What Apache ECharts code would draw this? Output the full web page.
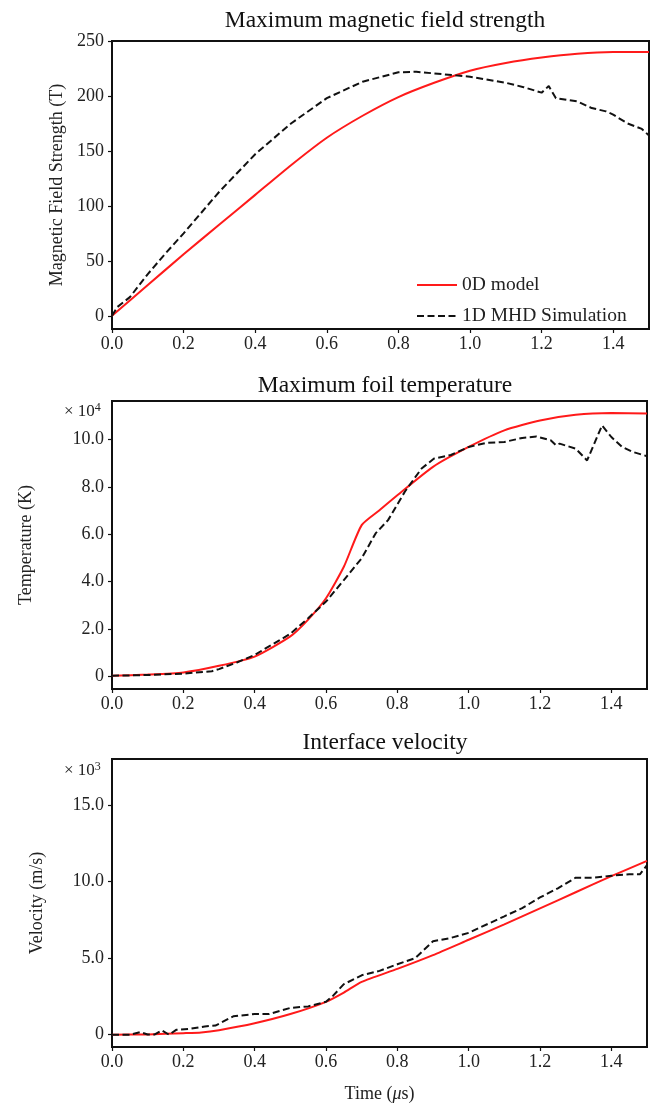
<!DOCTYPE html>
<html>
<head>
<meta charset="utf-8">
<script src="https://cdn.jsdelivr.net/npm/echarts@6/dist/echarts.min.js"></script>
<style>
  html, body { margin: 0; padding: 0; background: #fff; }
  #chart { width: 654px; height: 1109px; }
</style>
</head>
<body>
<div id="chart"></div>
<script>
// time axis (microseconds)
var xTicks = [0, 0.2, 0.4, 0.6, 0.8, 1.0, 1.2, 1.4]

// panel 1: magnetic field (T)
var fieldModelT = [0, 0.1, 0.2, 0.3, 0.4, 0.5, 0.6, 0.7, 0.8, 0.9, 1.0, 1.1, 1.2, 1.3, 1.4, 1.5]
var fieldModel  = [0, 28, 56, 83, 110, 137, 162, 182, 199, 212, 223, 230, 235, 238.5, 240, 240]
var fieldSimT = [0, 0.015, 0.05, 0.1, 0.15, 0.2, 0.3, 0.4, 0.5, 0.6, 0.7, 0.8, 0.85, 0.9, 1.0, 1.1, 1.15, 1.2, 1.22, 1.24, 1.3, 1.34, 1.38, 1.4, 1.44, 1.48, 1.5]
var fieldSim  = [0, 8, 17, 38, 57, 75, 113, 147, 175, 198, 213, 221.5, 222, 220.5, 217.5, 212, 208, 203, 209, 198, 195, 189, 186, 183, 175, 170, 164]
var fieldTicks = [0, 50, 100, 150, 200, 250]

// panel 2: foil temperature (K)
var tempModelT = [0, 0.1, 0.2, 0.3, 0.4, 0.5, 0.55, 0.6, 0.65, 0.7, 0.75, 0.8, 0.9, 1.0, 1.1, 1.2, 1.3, 1.4, 1.5]
var tempModel  = [300, 800, 1700, 4500, 8400, 16900, 24000, 33000, 46300, 63900, 70200, 76500, 88500, 96900, 103900, 108100, 110500, 111200, 111000]
var tempSimT = [0, 0.1, 0.2, 0.28, 0.3, 0.35, 0.4, 0.5, 0.55, 0.6, 0.65, 0.7, 0.739, 0.774, 0.821, 0.868, 0.903, 0.95, 1.0, 1.05, 1.1, 1.15, 1.19, 1.23, 1.245, 1.255, 1.3, 1.332, 1.374, 1.4, 1.43, 1.46, 1.5]
var tempSim  = [300, 600, 1200, 2200, 3100, 5900, 9100, 18000, 24600, 31600, 40700, 49900, 60400, 66000, 78000, 87800, 92000, 93500, 96900, 98600, 99000, 100700, 101300, 99700, 97600, 98300, 96200, 91200, 106000, 101100, 96900, 94800, 93000]
var tempTicks = [0, 20000, 40000, 60000, 80000, 100000]

// panel 3: interface velocity (m/s)
var velModelT = [0, 0.1, 0.2, 0.25, 0.3, 0.4, 0.5, 0.6, 0.65, 0.7, 0.8, 0.9, 1.0, 1.1, 1.2, 1.3, 1.4, 1.5]
var velModel  = [0, 20, 100, 150, 300, 750, 1350, 2150, 2750, 3450, 4300, 5200, 6200, 7200, 8250, 9300, 10350, 11350]
var velSimT = [0, 0.05, 0.08, 0.1, 0.12, 0.14, 0.16, 0.18, 0.22, 0.26, 0.29, 0.34, 0.4, 0.44, 0.5, 0.55, 0.6, 0.62, 0.65, 0.7, 0.75, 0.8, 0.85, 0.9, 0.95, 1.0, 1.03, 1.06, 1.1, 1.15, 1.2, 1.25, 1.3, 1.35, 1.4, 1.45, 1.48, 1.5]
var velSim  = [0, 0, 170, 20, 20, 280, 0, 320, 390, 540, 600, 1200, 1350, 1350, 1750, 1850, 2150, 2550, 3300, 3880, 4170, 4600, 5000, 6100, 6320, 6650, 6980, 7300, 7730, 8270, 8960, 9560, 10250, 10250, 10380, 10470, 10470, 11070]
var velTicks = [0, 5000, 10000, 15000]

function pairs(xs, ys) {
  return xs.map(function (x, i) { return [x, ys[i]] })
}

var serif = 'Liberation Serif'
var chart = echarts.init(document.getElementById('chart'))

function makeX(idx, withName) {
  return {
    type: 'value',
    gridIndex: idx,
    min: 0,
    max: 1.5,
    name: withName ? '{n|Time (}{i|\u03bc}{n|s)}' : '',
    nameLocation: 'middle',
    nameGap: 38,
    nameTextStyle: {
      rich: {
        n: { fontFamily: serif, fontSize: 18, color: '#222' },
        i: { fontFamily: serif, fontSize: 18, fontStyle: 'italic', color: '#222' }
      }
    },
    axisLine: { onZero: false, lineStyle: { color: '#111', width: 1.5 } },
    axisTick: { customValues: xTicks, length: 4, lineStyle: { color: '#111', width: 1.2 } },
    axisLabel: {
      customValues: xTicks,
      formatter: function (v) { return v.toFixed(1) },
      fontFamily: serif, fontSize: 18, color: '#222', margin: 6
    },
    splitLine: { show: false }
  }
}

function makeY(idx, min, max, ticks, fmt, name, gap) {
  return {
    type: 'value',
    gridIndex: idx,
    min: min,
    max: max,
    name: name,
    nameLocation: 'middle',
    nameGap: gap,
    nameTextStyle: { fontFamily: serif, fontSize: 18, color: '#222' },
    axisLine: { onZero: false, lineStyle: { color: '#111', width: 1.5 } },
    axisTick: { customValues: ticks, length: 4, lineStyle: { color: '#111', width: 1.2 } },
    axisLabel: {
      customValues: ticks,
      formatter: fmt,
      fontFamily: serif, fontSize: 18, color: '#222', margin: 8
    },
    splitLine: { show: false }
  }
}

function modelLine(idx, data) {
  return {
    name: '0D model', type: 'line', xAxisIndex: idx, yAxisIndex: idx,
    data: data, symbol: 'none', smooth: 0.2,
    lineStyle: { color: '#ff1a1a', width: 2 }, itemStyle: { color: '#ff1a1a' },
    z: 3
  }
}

function simLine(idx, data) {
  return {
    name: '1D MHD Simulation', type: 'line', xAxisIndex: idx, yAxisIndex: idx,
    data: data, symbol: 'none',
    lineStyle: { color: '#111', width: 2, type: [7, 3.5] }, itemStyle: { color: '#111' },
    z: 4
  }
}

var titleStyle = { fontFamily: serif, fontSize: 23.5, fontWeight: 'normal', color: '#111' }
var multRich = {
  a: { fontFamily: serif, fontSize: 17, fill: '#222' },
  b: { fontFamily: serif, fontSize: 12, fill: '#222', verticalAlign: 'top', padding: [0, 0, 8, 0] }
}

chart.setOption({
  animation: false,
  backgroundColor: '#fff',
  title: [
    { text: 'Maximum magnetic field strength', left: 380, top: 4, textAlign: 'center', textStyle: titleStyle },
    { text: 'Maximum foil temperature', left: 380, top: 369, textAlign: 'center', textStyle: titleStyle },
    { text: 'Interface velocity', left: 380, top: 726, textAlign: 'center', textStyle: titleStyle }
  ],
  legend: {
    orient: 'vertical',
    left: 411,
    top: 270,
    itemWidth: 40,
    itemHeight: 14,
    itemGap: 11,
    data: ['0D model', '1D MHD Simulation'],
    itemStyle: { opacity: 0 },
    textStyle: { fontFamily: serif, fontSize: 19.5, color: '#222' }
  },
  grid: [
    { left: 112, right: 5, top: 41, height: 288, show: true, borderColor: '#111', borderWidth: 2 },
    { left: 112, right: 7, top: 401, height: 288, show: true, borderColor: '#111', borderWidth: 2 },
    { left: 112, right: 7, top: 759, height: 288, show: true, borderColor: '#111', borderWidth: 2 }
  ],
  xAxis: [makeX(0, false), makeX(1, false), makeX(2, true)],
  yAxis: [
    makeY(0, -12, 250, fieldTicks, function (v) { return String(v) }, 'Magnetic Field Strength (T)', 46),
    makeY(1, -5300, 116300, tempTicks, function (v) { return v === 0 ? '0' : (v / 1e4).toFixed(1) }, 'Temperature (K)', 77),
    makeY(2, -800, 18000, velTicks, function (v) { return v === 0 ? '0' : (v / 1e3).toFixed(1) }, 'Velocity (m/s)', 66)
  ],
  graphic: [
    { type: 'text', left: 64, top: 402, style: { text: '{a|\u00d7 10}{b|4}', rich: multRich } },
    { type: 'text', left: 64, top: 761, style: { text: '{a|\u00d7 10}{b|3}', rich: multRich } }
  ],
  series: [
    modelLine(0, pairs(fieldModelT, fieldModel)),
    simLine(0, pairs(fieldSimT, fieldSim)),
    modelLine(1, pairs(tempModelT, tempModel)),
    simLine(1, pairs(tempSimT, tempSim)),
    modelLine(2, pairs(velModelT, velModel)),
    simLine(2, pairs(velSimT, velSim))
  ]
})
</script>
</body>
</html>
